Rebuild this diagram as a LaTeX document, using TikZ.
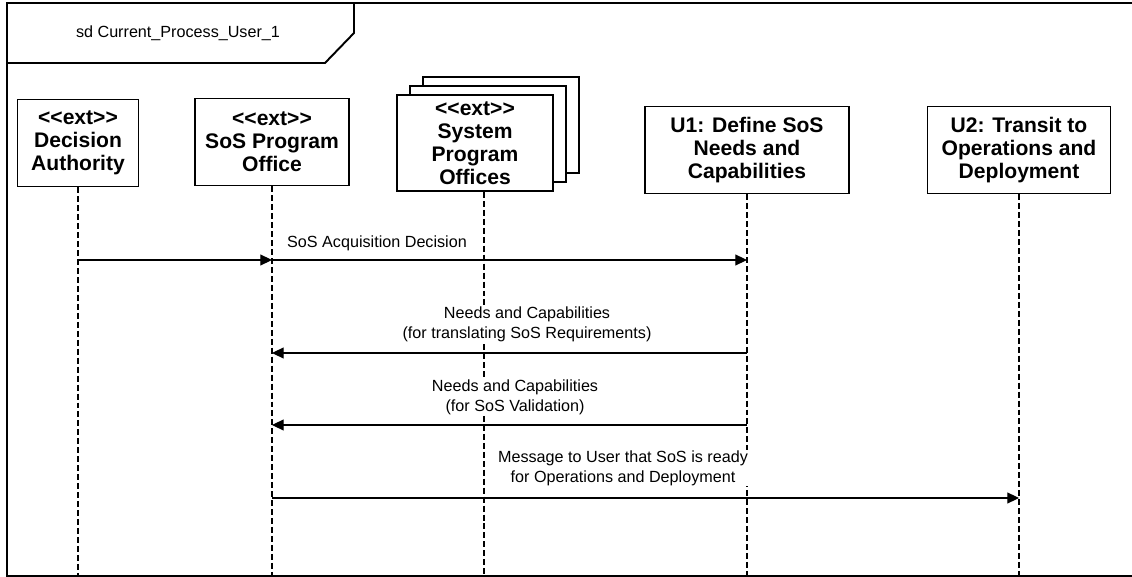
\documentclass[tikz,border=0pt]{standalone}
\usepackage{fontspec}
\setmainfont{Liberation Sans}
\usetikzlibrary{arrows.meta}
\usetikzlibrary{shadows}
\usetikzlibrary{positioning}

\newcommand{\extst}{<\kern0pt<ext>\kern0pt>}

\begin{document}
\begin{tikzpicture}[x=0.02cm,y=-0.02cm]
\tikzset{lifehead/.style={rectangle,draw,line width=1.1pt,fill=white,minimum height=1.74cm,align=center,inner sep=1pt,font=\fontsize{12}{13}\selectfont\bfseries}}
\tikzset{lifeline/.style={line width=0.8pt,dash pattern=on 3.4pt off 1.7pt}}
\tikzset{msg/.style={line width=0.6pt,-{Triangle[length=6.6pt,width=6.2pt]}}}
\tikzset{msglabel/.style={align=center,inner sep=0.5pt,fill=white,font=\fontsize{9.2}{11.3}\selectfont}}
\useasboundingbox (0,0) rectangle (1132,577);
% frame
\draw[line width=1.1pt] (1140,3) -- (7,3) -- (7,576) -- (1140,576);
\draw[line width=1.1pt] (7,63) -- (325,63) -- (354,33) -- (354,3);
\node[msglabel](title) at (178,33){sd Current\_Process\_User\_1};
% heads
\node[lifehead,minimum width=2.42cm](da) at (78,143){\extst\\Decision\\Authority};
\node[lifehead,minimum width=3.08cm](spo) at (272,142){\extst\\SoS Program\\Office};
\node[lifehead,minimum width=3.12cm,minimum height=1.92cm,
  double copy shadow={shadow xshift=0.26cm,shadow yshift=0.18cm,fill=white,draw,line width=1.1pt}](sys) at (475,143){\extst\\System\\Program\\Offices};
\node[lifehead,minimum width=4.08cm](u1) at (747,150){U1: Define SoS\\Needs and\\Capabilities};
\node[lifehead,minimum width=3.66cm](u2) at (1019,150){U2: Transit to\\Operations and\\Deployment};
% lifelines
\coordinate (bot) at (0,576);
\coordinate (sysl) at ([xshift=0.18cm]sys.south);
\draw[lifeline] (da.south) -- (da.south |- bot);
\draw[lifeline] (spo.south) -- (spo.south |- bot);
\draw[lifeline] (sysl) -- (sysl |- bot);
\draw[lifeline] (u1.south) -- (u1.south |- bot);
\draw[lifeline] (u2.south) -- (u2.south |- bot);
% messages
\coordinate (m1) at (0,260);
\coordinate (m2) at (0,353);
\coordinate (m3) at (0,425);
\coordinate (m4) at (0,498);
\draw[msg] (da.south |- m1) -- (spo.south |- m1);
\draw[msg] (spo.south |- m1) -- (u1.south |- m1);
\node[msglabel](l1) at (377,243){SoS Acquisition Decision};
\draw[msg] (u1.south |- m2) -- (spo.south |- m2);
\node[msglabel](l2) at (527,324){Needs and Capabilities\\(for translating SoS Requirements)};
\draw[msg] (u1.south |- m3) -- (spo.south |- m3);
\node[msglabel](l3) at (515,397){Needs and Capabilities\\(for SoS Validation)};
\draw[msg] (spo.south |- m4) -- (u2.south |- m4);
\node[msglabel](l4) at (623,468){Message to User that SoS is ready\\for Operations and Deployment};
\end{tikzpicture}
\end{document}
